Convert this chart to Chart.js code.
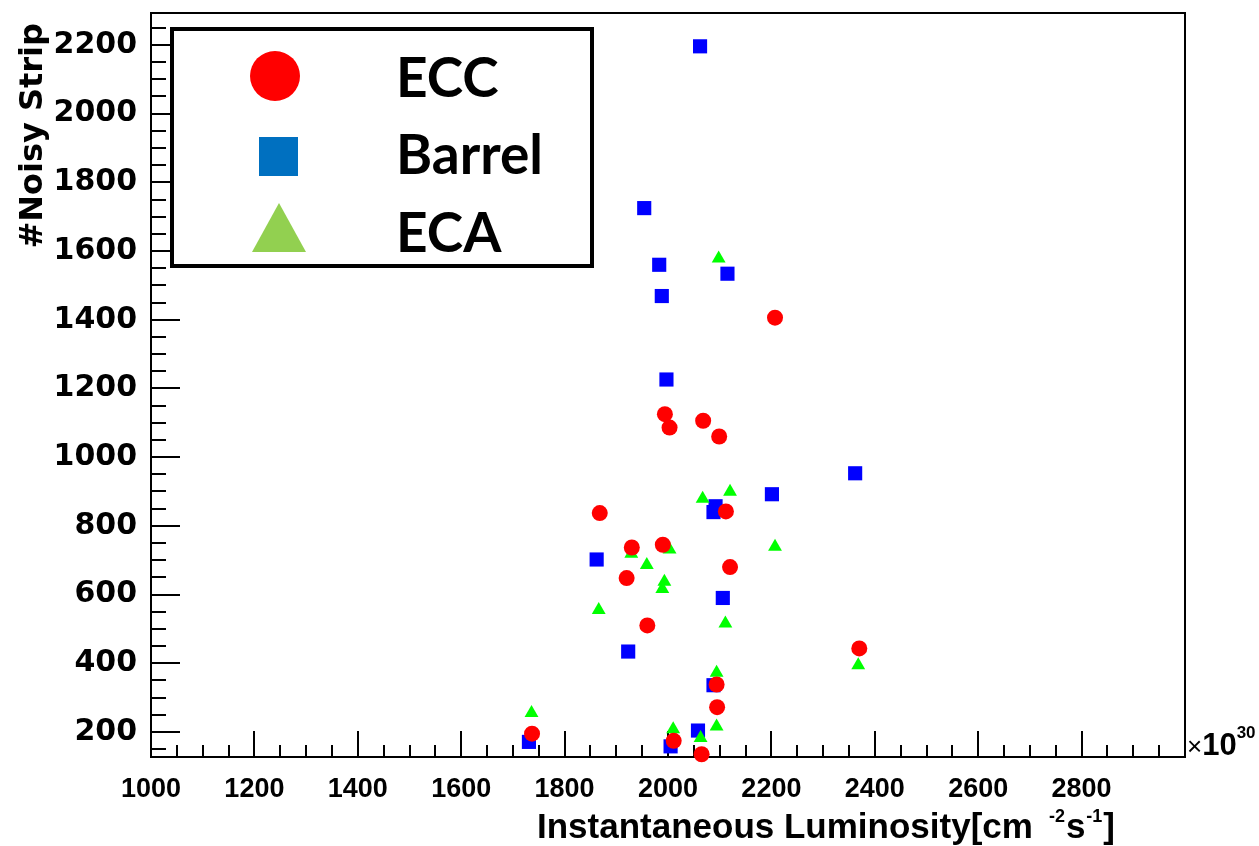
<!DOCTYPE html>
<html><head><meta charset="utf-8">
<script src="https://cdn.jsdelivr.net/npm/chart.js@4.4.0/dist/chart.umd.min.js"></script>
<style>html,body{margin:0;padding:0;background:#fff;} #c{display:block;}</style>
</head><body>
<canvas id="c" width="1259" height="846"></canvas>
<script>
// ---- data (luminosity in units of 1e30 cm^-2 s^-1, number of noisy strips) ----
const seriesNames = ['ECC', 'Barrel', 'ECA'];
const eccX = [1994, 2003, 2068, 2099, 2207, 2112, 1868, 1930, 1990, 2120, 1920, 1960, 2370, 2094, 2095, 1737, 2011, 2065];
const eccY = [1125, 1086, 1106, 1060, 1406, 842, 837, 737, 745, 680, 648, 510, 443, 338, 272, 195, 174, 135];
const barrelX = [2062, 1954, 1983, 2115, 1988, 1997, 2362, 2201, 2092, 2088, 1862, 2106, 1923, 2088, 1731, 2058, 2005];
const barrelY = [2196, 1725, 1560, 1534, 1469, 1226, 953, 892, 857, 840, 702, 590, 434, 336, 171, 204, 158];
const ecaX = [2098, 2120, 2067, 2207, 1929, 2003, 1959, 1993, 1989, 1866, 2111, 2368, 2094, 1736, 2094, 2010, 2063];
const ecaY = [1578, 899, 879, 739, 719, 731, 686, 637, 616, 555, 516, 394, 372, 255, 216, 208, 182];
const xTickLabels = [1000, 1200, 1400, 1600, 1800, 2000, 2200, 2400, 2600, 2800];
const yTickLabels = [200, 400, 600, 800, 1000, 1200, 1400, 1600, 1800, 2000, 2200];
const xRange = [1000, 3000];
const yRange = [127, 2293];

const toPts = (xs, ys) => xs.map((x, i) => ({x: x, y: ys[i]}));

const FONT = '"DejaVu Sans", sans-serif';
const HFONT = '"Liberation Sans", Arial, sans-serif';

const frameAndText = {
  id: 'frameAndText',
  beforeDatasetsDraw(chart) {
    const {ctx, chartArea: a, scales: {x, y}} = chart;
    ctx.save();
    ctx.strokeStyle = '#000';
    ctx.lineWidth = 2;
    ctx.beginPath();
    for (let v = 150; v <= yRange[1]; v += 50) {
      if (v < yRange[0]) continue;
      const p = Math.round(y.getPixelForValue(v));
      const len = (v % 200 === 0) ? 29 : 15;
      ctx.moveTo(a.left, p); ctx.lineTo(a.left + len, p);
    }
    for (let v = xRange[0]; v <= xRange[1]; v += 50) {
      const p = Math.round(x.getPixelForValue(v));
      const len = (v % 200 === 0) ? 26 : 12;
      ctx.moveTo(p, a.bottom); ctx.lineTo(p, a.bottom - len);
    }
    ctx.stroke();
    ctx.lineWidth = 2;
    ctx.strokeRect(a.left, a.top, a.right - a.left, a.bottom - a.top);
    ctx.restore();
  },
  afterDraw(chart) {
    const {ctx, chartArea: a} = chart;
    ctx.save();
    ctx.fillStyle = '#000';
    // y title
    ctx.save();
    ctx.translate(42, 23);
    ctx.rotate(-Math.PI / 2);
    ctx.font = 'bold 32px ' + FONT;
    ctx.textAlign = 'right';
    ctx.textBaseline = 'alphabetic';
    ctx.fillText('#Noisy Strip', 0, 0);
    ctx.restore();
    // x title
    ctx.font = 'bold 35px ' + HFONT;
    ctx.textAlign = 'left';
    ctx.textBaseline = 'alphabetic';
    let tx = 537, ty = 838;
    const main = 'Instantaneous Luminosity[cm';
    ctx.fillText(main, tx, ty);
    tx += ctx.measureText(main).width + 16;
    ctx.font = 'bold 18px ' + HFONT;
    ctx.fillText('-2', tx, ty - 16);
    tx += ctx.measureText('-2').width + 1;
    ctx.font = 'bold 35px ' + HFONT;
    ctx.fillText('s', tx, ty);
    tx += ctx.measureText('s').width + 1;
    ctx.font = 'bold 18px ' + HFONT;
    ctx.fillText('-1', tx, ty - 16);
    tx += ctx.measureText('-1').width + 1;
    ctx.font = 'bold 35px ' + HFONT;
    ctx.fillText(']', tx, ty);
    // x10^30
    let ex = a.right + 2, ey = 755;
    ctx.font = '26px ' + HFONT;
    ctx.fillText('\u00d7', ex, ey);
    ex += ctx.measureText('\u00d7').width;
    ctx.font = 'bold 31px ' + HFONT;
    ctx.fillText('10', ex, ey);
    ex += ctx.measureText('10').width;
    ctx.font = 'bold 17px ' + HFONT;
    ctx.fillText('30', ex, ey - 17);

    // legend
    ctx.lineWidth = 4;
    ctx.strokeStyle = '#000';
    ctx.fillStyle = '#fff';
    ctx.fillRect(172, 29, 420, 237);
    ctx.strokeRect(172, 29, 420, 237);
    ctx.fillStyle = '#FF0000';
    ctx.beginPath(); ctx.arc(275, 76, 25, 0, Math.PI * 2); ctx.fill();
    ctx.fillStyle = '#0070C0';
    ctx.fillRect(259, 137, 39, 39);
    ctx.fillStyle = '#92D050';
    ctx.beginPath(); ctx.moveTo(252, 252); ctx.lineTo(306, 252); ctx.lineTo(279, 203); ctx.closePath(); ctx.fill();
    ctx.fillStyle = '#000';
    ctx.font = 'bold 55px Lato, sans-serif';
    ctx.textAlign = 'left';
    ctx.fillText(seriesNames[0], 396, 97);
    ctx.fillText(seriesNames[1], 396, 174);
    ctx.fillText(seriesNames[2], 396, 252);
    ctx.restore();
  }
};

new Chart(document.getElementById('c'), {
  type: 'scatter',
  data: {
    datasets: [
      {label: seriesNames[1], data: toPts(barrelX, barrelY), pointStyle: 'rect', pointRadius: 10, pointHoverRadius: 10,
       backgroundColor: '#0000FF', borderColor: '#0000FF', borderWidth: 0, clip: false, order: 3},
      {label: seriesNames[2], data: toPts(ecaX, ecaY), pointStyle: 'triangle', pointRadius: 8, pointHoverRadius: 8,
       backgroundColor: '#00FF00', borderColor: '#00FF00', borderWidth: 0, clip: false, order: 2},
      {label: seriesNames[0], data: toPts(eccX, eccY), pointStyle: 'circle', pointRadius: 8, pointHoverRadius: 8,
       backgroundColor: '#FF0000', borderColor: '#FF0000', borderWidth: 0, clip: false, order: 1}
    ]
  },
  options: {
    responsive: false,
    animation: false,
    devicePixelRatio: 1,
    layout: {autoPadding: false, padding: {left: 0, top: 13, right: 74, bottom: 0}},
    plugins: {legend: {display: false}, tooltip: {enabled: false}},
    scales: {
      x: {
        type: 'linear', min: xRange[0], max: xRange[1],
        grid: {display: false, drawTicks: false}, border: {display: false},
        afterBuildTicks: s => { s.ticks = xTickLabels.map(v => ({value: v})); },
        afterFit: s => { s.height = 89; s.paddingLeft = 0; s.paddingRight = 0; },
        ticks: {padding: 16, maxRotation: 0, autoSkip: false, color: '#000',
                font: {family: HFONT, size: 27, weight: 'bold'}, callback: v => String(v)}
      },
      y: {
        type: 'linear', min: yRange[0], max: yRange[1],
        grid: {display: false, drawTicks: false}, border: {display: false},
        afterBuildTicks: s => { s.ticks = yTickLabels.map(v => ({value: v})); },
        afterFit: s => { s.width = 151; s.paddingTop = 0; s.paddingBottom = 0; },
        ticks: {padding: 14, autoSkip: false, color: '#000',
                font: {family: FONT, size: 30, weight: 'bold'}, callback: v => String(v)}
      }
    }
  },
  plugins: [frameAndText]
});
</script>
</body></html>
